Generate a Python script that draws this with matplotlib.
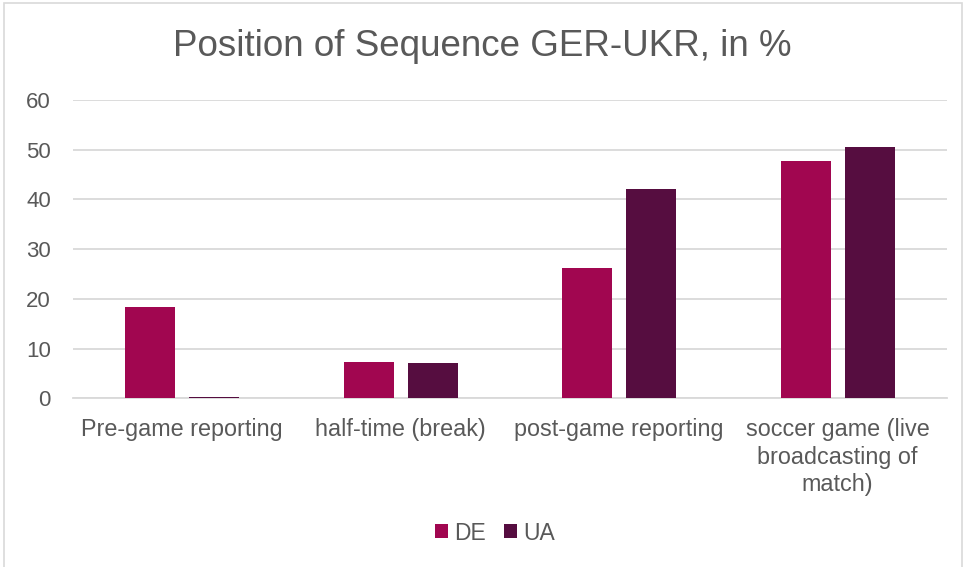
import numpy as np
import matplotlib.pyplot as plt
from matplotlib.patches import Rectangle

plt.rcParams['font.family'] = ['Liberation Sans', 'DejaVu Sans']

categories = ['Pre-game reporting', 'half-time (break)', 'post-game reporting',
              'soccer game (live\nbroadcasting of\nmatch)']
de_values = [18.4, 7.4, 26.2, 47.8]
ua_values = [0.3, 7.1, 42.0, 50.6]
series_names = ['DE', 'UA']
y_ticks = [0, 10, 20, 30, 40, 50, 60]

TEXT = '#595959'
GRID = '#D9D9D9'
DE_COLOR = '#A10650'
UA_COLOR = '#560D40'

fig = plt.figure(figsize=(9.65, 5.67), dpi=100)
ax = fig.add_axes([73 / 965, 1 - 398.3 / 567, 874 / 965, 298.3 / 567])

x = np.arange(len(categories))
width = 0.229
offset = 0.146
ax.bar(x - offset, de_values, width, color=DE_COLOR, label=series_names[0], zorder=3)
ax.bar(x + offset, ua_values, width, color=UA_COLOR, label=series_names[1], zorder=3)

ax.set_xlim(-0.5, len(categories) - 0.5)
ax.set_ylim(0, 60)
ax.set_yticks(y_ticks)
ax.set_xticks(x)
ax.set_xticklabels(categories, fontsize=16.8, color=TEXT, linespacing=1.27)
ax.tick_params(axis='y', labelsize=16, colors=TEXT, length=0, pad=16)
ax.tick_params(axis='x', length=0, pad=14)
ax.grid(axis='y', color=GRID, linewidth=1.3, zorder=0)
for s in ['top', 'right', 'left']:
    ax.spines[s].set_visible(False)
ax.spines['bottom'].set_color(GRID)
ax.spines['bottom'].set_linewidth(1.3)

fig.text(0.5, 1 - 46 / 567, 'Position of Sequence GER-UKR, in %', ha='center', va='center',
         fontsize=26.5, color=TEXT)

fig.legend(loc='center', bbox_to_anchor=(495 / 965, 1 - 533 / 567), ncol=2, frameon=False,
           fontsize=16.5, labelcolor=TEXT, handlelength=0.57, handleheight=0.57,
           handletextpad=0.26, columnspacing=0.8)

# light chart border
fig.patches.append(Rectangle((4 / 965, -0.05), 958 / 965, 1 - 3 / 567 + 0.05,
                             transform=fig.transFigure, fill=False,
                             edgecolor=GRID, linewidth=1.2))

fig.savefig('out.png', dpi=100)
